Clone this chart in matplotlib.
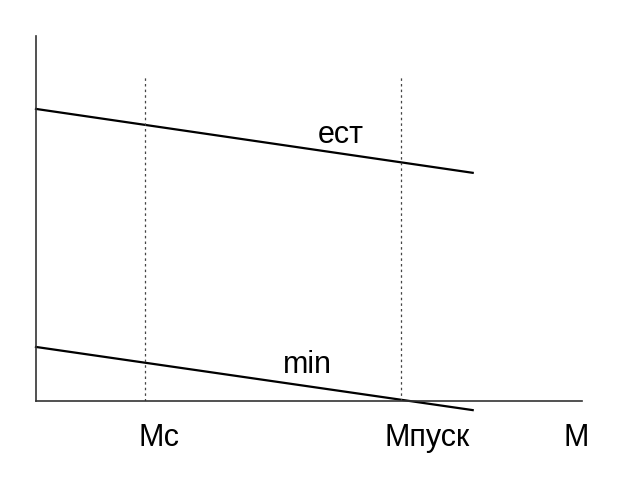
import numpy as np
import matplotlib
matplotlib.use('Agg')
import matplotlib.pyplot as plt

plt.rcParams['font.family'] = ['Liberation Sans', 'DejaVu Sans']

# characteristic lines (M, omega) in arbitrary units
x_line = [0.0, 8.0]
y_est = [8.0, 6.25]
y_min = [1.48, -0.25]

# vertical markers
m_c = 2.0
m_pusk = 6.68
marker_top = 8.93

# labels
axis_labels = ['Мс', 'Мпуск', 'М']
axis_label_x = [2.25, 7.16, 9.89]
line_labels = ['ест', 'min']
line_label_pos = [(5.58, 7.07), (4.98, 0.76)]

fig = plt.figure(figsize=(6.26, 4.92), dpi=100)
ax = fig.add_axes([0.0575, 0.185, 0.872, 0.742])
ax.set_xlim(0, 10)
ax.set_ylim(0, 10)

ax.plot(x_line, y_est, color='black', lw=1.6, clip_on=False)
ax.plot(x_line, y_min, color='black', lw=1.6, clip_on=False)

for xm in [m_c, m_pusk]:
    ax.plot([xm, xm], [0, marker_top], color='#444444', lw=0.9,
            linestyle=(0, (2, 2.5)))

for lab, (lx, ly) in zip(line_labels, line_label_pos):
    ax.text(lx, ly, lab, fontsize=22, ha='center', va='baseline')

for lab, lx in zip(axis_labels, axis_label_x):
    ax.text(lx, -1.23, lab, fontsize=22, ha='center', va='baseline', clip_on=False)

for s in ['top', 'right']:
    ax.spines[s].set_visible(False)
for s in ['left', 'bottom']:
    ax.spines[s].set_color('#333333')
    ax.spines[s].set_linewidth(1.2)
ax.set_xticks([])
ax.set_yticks([])

fig.savefig('out.png', dpi=100)
